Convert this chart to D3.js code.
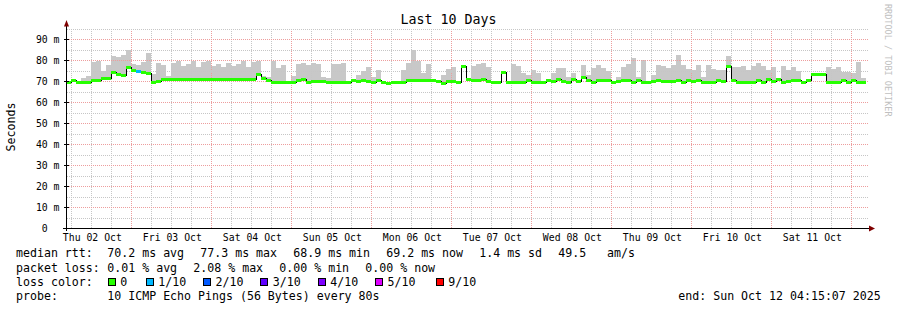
<!DOCTYPE html>
<html>
<head>
<meta charset="utf-8">
<script src="https://cdn.jsdelivr.net/npm/d3@7"></script>
<style>
  body { margin: 0; background: #fff; }
  text { font-family: "DejaVu Sans Mono", monospace; fill: #000; white-space: pre; }
</style>
</head>
<body>
<div id="chart"></div>
<script>
// 10 day window, one value per 90 minutes
var startTime = Date.UTC(2025, 9, 2, 4, 15, 7)
var endTime = Date.UTC(2025, 9, 12, 4, 15, 7)
var stepMinutes = 90

// median rtt (ms)
var median = [
  69.6, 70.4, 69.6, 69.6, 69.6, 70.6, 70.6, 71.2, 71.2, 74.5,
  73.5, 73.0, 76.5, 75.3, 74.8, 74.3, 73.8, 69.3, 70.1, 70.8,
  70.9, 71.0, 71.0, 70.9, 71.0, 71.0, 71.1, 71.0, 70.9, 71.0,
  71.0, 71.0, 70.9, 71.0, 71.0, 71.0, 71.1, 71.0, 73.5, 71.5,
  70.7, 69.6, 69.6, 69.3, 69.6, 69.6, 70.3, 71.0, 69.6, 69.8,
  69.8, 69.8, 69.6, 69.6, 69.6, 69.6, 69.6, 70.6, 69.8, 70.6,
  70.2, 69.6, 70.3, 69.6, 69.2, 69.6, 69.6, 69.6, 70.3, 70.6,
  70.7, 70.3, 70.3, 70.3, 69.9, 69.1, 69.8, 70.2, 69.5, 77.3,
  71.0, 70.7, 70.7, 71.0, 69.9, 69.6, 69.6, 74.2, 69.6, 69.6,
  69.6, 69.6, 70.5, 69.6, 69.6, 69.6, 70.3, 69.8, 71.0, 69.9,
  69.5, 71.0, 70.0, 72.1, 70.3, 69.6, 70.7, 70.7, 70.7, 69.6,
  69.9, 70.7, 70.7, 69.6, 70.3, 69.4, 69.4, 70.0, 70.7, 70.1,
  70.1, 70.1, 70.3, 69.4, 70.7, 69.8, 70.5, 69.6, 69.6, 69.6,
  70.7, 69.9, 77.0, 70.3, 69.6, 69.6, 69.6, 69.6, 70.5, 69.6,
  71.0, 70.0, 70.8, 69.4, 70.1, 70.5, 70.7, 69.6, 70.7, 73.5,
  73.5, 73.5, 69.6, 69.6, 69.6, 70.5, 69.6, 70.7, 69.6, 69.6
]

// highest ping of each period (ms), null = no smoke
var smokeMax = [
  null, null, null, 71.5, 72.8, 79.5, 80.0, 75.0, 78.0, 82.0,
  81.5, 82.5, 85.0, 78.5, 78.0, 79.5, 83.4, 73.5, 79.0, 78.0,
  72.5, 79.0, 80.0, 77.5, 78.5, 80.0, 77.0, 79.5, 80.0, 77.5,
  78.5, 77.0, 79.0, 77.5, 78.5, 80.0, 77.0, 79.5, 80.0, 72.5,
  72.0, 80.0, 76.5, 78.0, null, 72.5, 78.3, 79.0, 78.0, 79.0,
  78.5, 72.0, 71.5, 78.3, 78.3, 79.0, null, null, 73.0, 75.0,
  77.0, 72.0, 75.5, null, null, null, null, 75.5, 79.0, 85.0,
  80.0, 74.0, 78.5, null, null, 73.0, 76.0, 77.0, null, null,
  null, 77.5, 78.3, 79.0, 77.0, null, null, null, null, 78.3,
  77.3, 74.0, 73.0, 75.5, 74.0, null, null, 74.0, 76.5, 76.5,
  72.0, 74.0, null, 78.0, 73.0, 76.5, 77.8, 76.5, 75.0, null,
  72.0, 77.0, 78.5, 81.0, 72.0, 80.2, null, 73.0, 78.0, 77.5,
  76.5, 78.0, 82.8, 78.0, 76.0, 75.5, 78.0, 72.0, 78.0, 76.0,
  75.5, 75.5, 82.0, 77.0, 77.0, 77.5, 75.5, 77.5, 78.6, 77.5,
  75.5, 77.0, 71.5, 77.3, 75.5, 77.0, 75.0, null, null, null,
  null, null, 77.0, 76.0, 77.0, 74.5, 74.5, 74.0, 79.4, 71.5
]

// periods with lost pings: [period index, lost out of 10]
var lossEvents = [[14, 1]]

var lossLabels = ["0", "1/10", "2/10", "3/10", "4/10", "5/10", "9/10"]
var lossColors = ["#26ff00", "#00b8ff", "#0059ff", "#5e00ff", "#7e00ff", "#dd00ff", "#ff0000"]

var yTicks = [0, 10, 20, 30, 40, 50, 60, 70, 80, 90]
var rttStats = ["70.2 ms avg", "77.3 ms max", "68.9 ms min", "69.2 ms now", "1.4 ms sd", "49.5   am/s"]
var lossStats = ["0.01 % avg", "2.08 % max", "0.00 % min", "0.00 % now"]
var probeText = "10 ICMP Echo Pings (56 Bytes) every 80s"
var endText = "end: Sun Oct 12 04:15:07 2025"

var w = 897
var h = 310
var left = 66
var plotW = 800
var bottom = 228.5
var plotH = 200
var charW = 6.98

var svg = d3.select("#chart").append("svg")
  .attr("width", w)
  .attr("height", h)

var x = d3.scaleUtc()
  .domain([new Date(startTime), new Date(endTime)])
  .range([left, left + plotW])

var y = d3.scaleLinear()
  .domain([0, plotH / 2.1])
  .range([bottom, bottom - plotH])

function px(v) { return Math.floor(v) + 0.5 }

var data = median.map(function (m, i) {
  return {
    t0: new Date(startTime + i * stepMinutes * 60000),
    t1: new Date(startTime + (i + 1) * stepMinutes * 60000),
    median: m,
    max: smokeMax[i],
    loss: 0
  }
})
lossEvents.forEach(function (e) { data[e[0]].loss = e[1] })

// smoke
svg.append("g")
  .attr("shape-rendering", "crispEdges")
  .selectAll("rect")
  .data(data.filter(function (d) { return d.max != null && d.max > d.median }))
  .enter()
  .append("rect")
  .attr("x", function (d) { return Math.round(x(d.t0)) })
  .attr("width", function (d) { return Math.round(x(d.t1)) - Math.round(x(d.t0)) })
  .attr("y", function (d) { return Math.round(y(d.max)) })
  .attr("height", function (d) { return Math.round(y(d.median)) - Math.round(y(d.max)) })
  .attr("fill", "#c8c8c8")

// grid
var grid = svg.append("g").attr("shape-rendering", "crispEdges")
var hours = d3.utcHour.every(6).range(new Date(startTime), new Date(endTime))
grid.selectAll("line.v")
  .data(hours)
  .enter()
  .append("line")
  .attr("x1", function (d) { return px(x(d)) })
  .attr("x2", function (d) { return px(x(d)) })
  .attr("y1", bottom - plotH)
  .attr("y2", bottom)
  .attr("stroke", function (d) { return d.getUTCHours() == 0 ? "#ed9d9d" : "#c6c6c6" })
  .attr("stroke-dasharray", "1,1")

grid.selectAll("line.h")
  .data(d3.range(5, 100, 5))
  .enter()
  .append("line")
  .attr("x1", left + 1)
  .attr("x2", left + plotW + 2)
  .attr("y1", function (d) { return px(y(d)) })
  .attr("y2", function (d) { return px(y(d)) })
  .attr("stroke", function (d) { return d % 10 == 0 ? "#ed9d9d" : "#c6c6c6" })
  .attr("stroke-dasharray", "1,1")

// median: black steps, then loss coloured segments
var step = d3.line()
  .x(function (d) { return Math.round(x(d.t)) })
  .y(function (d) { return px(y(d.v)) })
  .curve(d3.curveStepAfter)

var stepPts = data.map(function (d) { return { t: d.t0, v: d.median } })
stepPts.push({ t: data[data.length - 1].t1, v: data[data.length - 1].median })

svg.append("path")
  .datum(stepPts)
  .attr("d", step)
  .attr("fill", "none")
  .attr("stroke", "#000")
  .attr("stroke-width", 1)
  .attr("shape-rendering", "crispEdges")

svg.append("g")
  .attr("shape-rendering", "crispEdges")
  .selectAll("line")
  .data(data)
  .enter()
  .append("line")
  .attr("x1", function (d) { return Math.round(x(d.t0)) })
  .attr("x2", function (d) { return Math.round(x(d.t1)) })
  .attr("y1", function (d) { return px(y(d.median)) })
  .attr("y2", function (d) { return px(y(d.median)) })
  .attr("stroke", function (d) { return lossColors[d.loss] })
  .attr("stroke-width", 3)

// axes
var yAxis = d3.axisLeft(y)
  .tickValues(yTicks)
  .tickSize(0)
  .tickPadding(7)
  .tickFormat(function (d) { return d == 0 ? "0\u00a0\u00a0" : d + " m" })

var gy = svg.append("g")
  .attr("transform", "translate(" + (left + 0.5) + ",0)")
  .call(yAxis)
gy.select(".domain").remove()
gy.selectAll("text").attr("font-size", "9.8px").attr("font-family", "DejaVu Sans Mono")

var noons = d3.utcDay.range(new Date(startTime), new Date(endTime)).map(function (d) {
  return d3.utcHour.offset(d, 12)
}).filter(function (d) { return d > startTime && d < endTime })
if (noons[0] - startTime > 86400000) noons.unshift(new Date(Date.UTC(2025, 9, 2, 12)))

var xAxis = d3.axisBottom(x)
  .tickValues(noons)
  .tickSize(0)
  .tickPadding(5.5)
  .tickFormat(d3.utcFormat("%a %d %b"))

var gx = svg.append("g")
  .attr("transform", "translate(0," + bottom + ")")
  .call(xAxis)
gx.select(".domain").remove()
gx.selectAll("text").attr("font-size", "9.8px").attr("font-family", "DejaVu Sans Mono")

var axes = svg.append("g").attr("shape-rendering", "crispEdges")
axes.append("line")
  .attr("x1", left + 0.5).attr("x2", left + 0.5)
  .attr("y1", bottom + 2).attr("y2", 24)
  .attr("stroke", "#000")
axes.append("line")
  .attr("x1", left - 3).attr("x2", left + plotW + 4)
  .attr("y1", bottom).attr("y2", bottom)
  .attr("stroke", "#000")
yTicks.forEach(function (t) {
  axes.append("line")
    .attr("x1", left - 2).attr("x2", left + 3)
    .attr("y1", px(y(t))).attr("y2", px(y(t)))
    .attr("stroke", "#000")
})

svg.append("path")
  .attr("d", "M" + (left - 2) + ",26.5L" + (left + 0.5) + ",20L" + (left + 3) + ",26.5Z")
  .attr("fill", "#7f0000")
svg.append("path")
  .attr("d", "M" + (left + plotW + 3) + "," + (bottom - 3) + "L" + (left + plotW + 9) + "," + bottom + "L" + (left + plotW + 3) + "," + (bottom + 3) + "Z")
  .attr("fill", "#7f0000")

// titles
svg.append("text")
  .attr("x", 448.5).attr("y", 24)
  .attr("text-anchor", "middle")
  .attr("font-size", "13.3px")
  .text("Last 10 Days")

svg.append("text")
  .attr("transform", "translate(15,127) rotate(-90)")
  .attr("text-anchor", "middle")
  .attr("font-size", "11.6px")
  .text("Seconds")

svg.append("text")
  .attr("transform", "translate(885,4) rotate(90)")
  .attr("font-size", "8.5px")
  .style("fill", "#c0c0c0")
  .text("RRDTOOL / TOBI OETIKER")

// legend
var legend = svg.append("g").attr("font-size", "11.6px")
var rows = [257.3, 271.7, 285.9, 300]

legend.append("text").attr("x", 16).attr("y", rows[0]).text("median rtt:")
var lx = 107.3
rttStats.forEach(function (s) {
  legend.append("text").attr("x", lx).attr("y", rows[0]).text(s)
  lx += s.length * charW + 16.2
})

legend.append("text").attr("x", 16).attr("y", rows[1]).text("packet loss:")
lx = 107.3
lossStats.forEach(function (s) {
  legend.append("text").attr("x", lx).attr("y", rows[1]).text(s)
  lx += s.length * charW + 16.2
})

legend.append("text").attr("x", 16).attr("y", rows[2]).text("loss color:")
var boxX = [107.7, 145.7, 203, 260.3, 317.7, 375, 435.7]
lossLabels.forEach(function (l, i) {
  legend.append("rect")
    .attr("x", Math.round(boxX[i]) + 0.5).attr("y", 278.5)
    .attr("width", 7).attr("height", 7)
    .attr("fill", lossColors[i])
    .attr("stroke", "#000")
    .attr("shape-rendering", "crispEdges")
  legend.append("text").attr("x", boxX[i] + 12.5).attr("y", rows[2]).text(l)
})

legend.append("text").attr("x", 16).attr("y", rows[3]).text("probe:")
legend.append("text").attr("x", 107.3).attr("y", rows[3]).text(probeText)
legend.append("text").attr("x", 678.3).attr("y", rows[3]).text(endText)
</script>
</body>
</html>
